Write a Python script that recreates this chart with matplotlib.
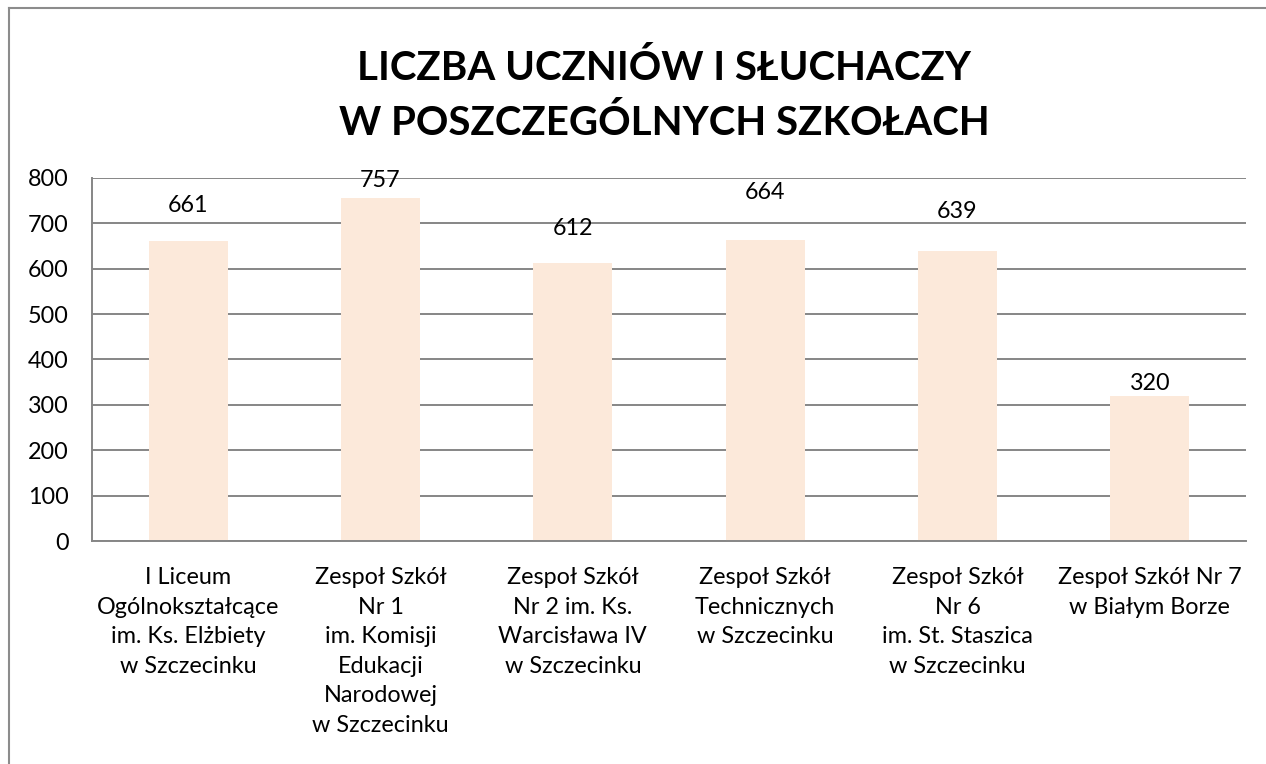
import matplotlib
matplotlib.use("Agg")
import matplotlib.pyplot as plt
from matplotlib.lines import Line2D

categories = [
    "I Liceum\nOgólnokształcące\nim. Ks. Elżbiety\nw Szczecinku",
    "Zespoł Szkół\nNr 1\nim. Komisji\nEdukacji\nNarodowej\nw Szczecinku",
    "Zespoł Szkół\nNr 2 im. Ks.\nWarcisława IV\nw Szczecinku",
    "Zespoł Szkół\nTechnicznych\nw Szczecinku",
    "Zespoł Szkół\nNr 6\nim. St. Staszica\nw Szczecinku",
    "Zespoł Szkół Nr 7\nw Białym Borze",
]
values = [661, 757, 612, 664, 639, 320]
yticks = [0, 100, 200, 300, 400, 500, 600, 700, 800]
title_lines = ["LICZBA UCZNIÓW I SŁUCHACZY", "W POSZCZEGÓLNYCH SZKOŁACH"]

# label offsets above bar tops (pixels), as placed in the reference
label_offsets = [36, 17, 35, 47, 40, 12]

plt.rcParams['font.family'] = ['Lato', 'DejaVu Sans']

W, H = 1266, 764
fig = plt.figure(figsize=(W / 100, H / 100), dpi=100)
ax = fig.add_axes([92 / W, 1 - 541 / H, (1246 - 92) / W, (541 - 178) / H])

FS = 16.8
x = list(range(len(values)))
bars = ax.bar(x, values, width=0.41, color="#FCE9DA", zorder=2)
ax.set_xlim(-0.5, len(values) - 0.5)
ax.set_ylim(0, 800)
ax.set_yticks(yticks)
ax.set_yticklabels([str(v) for v in yticks], fontsize=FS, color="black")
ax.set_xticks(x)
ax.set_xticklabels(categories, fontsize=FS, color="black", linespacing=1.5)
ax.tick_params(axis="both", length=0)
ax.tick_params(axis="y", pad=17)
ax.tick_params(axis="x", pad=19)
ax.grid(axis="y", color="#868686", linewidth=1.4, zorder=0)
for s in ["top", "right"]:
    ax.spines[s].set_visible(False)
for s in ["left", "bottom"]:
    ax.spines[s].set_color("#868686")
    ax.spines[s].set_linewidth(1.4)

for rect, v, off in zip(bars, values, label_offsets):
    ax.annotate(str(v), (rect.get_x() + rect.get_width() / 2, v),
                xytext=(0, off * 0.72), textcoords="offset points",
                ha="center", va="center", fontsize=FS, color="black")

for line, ypx in zip(title_lines, [68, 123]):
    fig.text(664 / W, 1 - ypx / H, line, ha="center", va="center",
             fontsize=29, fontweight="bold")

# outer chart-area border (left and top edges visible)
fig.add_artist(Line2D([9 / W, 9 / W], [0, 1 - 8 / H], transform=fig.transFigure,
                      color="#8c8c8c", linewidth=1.5))
fig.add_artist(Line2D([9 / W, 1], [1 - 8 / H, 1 - 8 / H], transform=fig.transFigure,
                      color="#8c8c8c", linewidth=1.5))

fig.savefig("out.png", dpi=100)
